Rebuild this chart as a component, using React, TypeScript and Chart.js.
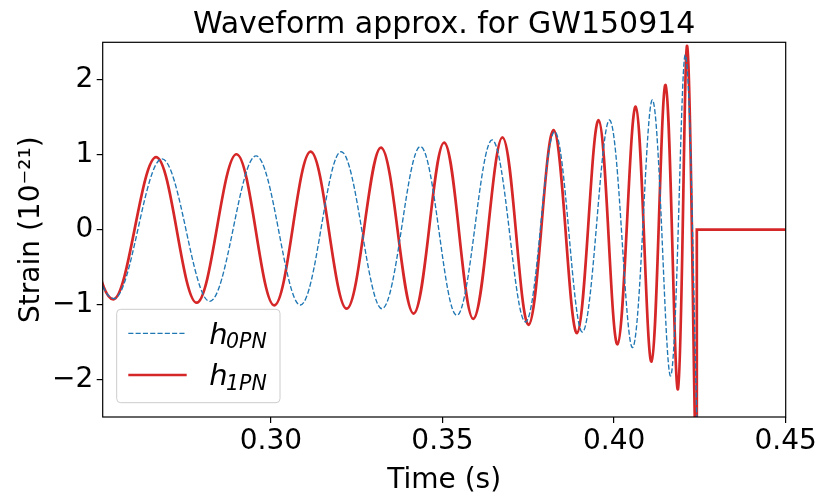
import React, { useEffect, useRef } from 'react';
import { Chart, registerables } from 'chart.js';

Chart.register(...registerables);

// ---- text ----
const TITLE = 'Waveform approx. for GW150914';
const X_LABEL = 'Time (s)';
const Y_LABEL = 'Strain (10\u207B\u00B2\u00B9)';
const LEGEND_BASE = ['h', 'h'];
const LEGEND_SUB = ['0PN', '1PN'];

// ---- axes ----
const X_MIN = 0.251;
const X_MAX = 0.45;
const Y_MIN = -2.5;
const Y_MAX = 2.5;
const X_TICKS = [0.3, 0.35, 0.4, 0.45];
const Y_TICKS = [-2, -1, 0, 1, 2];

// ---- h_0PN: successive extrema (first one just left of the axis) ----
const T_0PN = [
  0.2406, 0.2543, 0.2683, 0.2822, 0.2957, 0.3086, 0.3205, 0.3324, 0.3436, 0.3542,
  0.3645, 0.3742, 0.3827, 0.3908, 0.3987, 0.4054, 0.4112, 0.4165, 0.4208, 0.4244,
];
const H_0PN = [
  0.93, -0.92, 0.944, -0.957, 0.984, -1.006, 1.04, -1.055, 1.108, -1.144,
  1.197, -1.232, 1.307, -1.366, 1.463, -1.573, 1.73, -1.95, 2.33, -3.0,
];

// ---- h_1PN: successive extrema ----
const T_1PN = [
  0.2424, 0.2541, 0.2666, 0.2784, 0.29, 0.301, 0.3116, 0.3221, 0.3321, 0.3416,
  0.3505, 0.359, 0.3675, 0.3751, 0.3824, 0.3892, 0.3955, 0.401, 0.4063, 0.4109,
  0.415, 0.4186, 0.4213, 0.4237,
];
const H_1PN = [
  0.94, -0.93, 0.967, -0.975, 1.006, -1.01, 1.04, -1.055, 1.095, -1.12,
  1.16, -1.19, 1.23, -1.27, 1.33, -1.38, 1.46, -1.53, 1.64, -1.76,
  1.93, -2.13, 2.45, -3.0,
];
// after merger the 1PN waveform is set to zero
const T_1PN_TAIL = [0.4241, 0.4241, 0.45];
const H_1PN_TAIL = [-3.2, 0, 0];

const BLUE = '#1f77b4';
const RED = '#d62728';
const FONT = '"DejaVu Sans", "Liberation Sans", sans-serif';

const pts = (t: number[], h: number[]) => t.map((x, i) => ({ x, y: h[i] }));

const framePlugin = {
  id: 'mplFrame',
  afterDatasetsDraw(chart: any) {
    const { ctx, chartArea: a } = chart;
    ctx.save();
    ctx.strokeStyle = '#000';
    ctx.lineWidth = 1.2;
    ctx.strokeRect(a.left, a.top, a.right - a.left, a.bottom - a.top);
    ctx.restore();
  },
};

const legendPlugin = {
  id: 'mplLegend',
  afterDraw(chart: any) {
    const { ctx, chartArea: a } = chart;
    const ds = chart.data.datasets;
    const bx = a.left + 14;
    const bw = 163.3;
    const bh = 93.4;
    const by = a.bottom - 14.3 - bh;
    ctx.save();
    ctx.beginPath();
    if (ctx.roundRect) ctx.roundRect(bx, by, bw, bh, 4);
    else ctx.rect(bx, by, bw, bh);
    ctx.fillStyle = 'rgba(255,255,255,0.8)';
    ctx.fill();
    ctx.strokeStyle = '#cccccc';
    ctx.lineWidth = 1;
    ctx.stroke();
    const rowY = [by + 24, by + 65.7];
    for (let i = 0; i < 2; i++) {
      const d = ds[i];
      const y = rowY[i];
      ctx.beginPath();
      ctx.strokeStyle = d.borderColor;
      ctx.lineWidth = d.borderWidth;
      ctx.setLineDash(d.borderDash || []);
      ctx.moveTo(bx + 11.6, y);
      ctx.lineTo(bx + 70, y);
      ctx.stroke();
      ctx.setLineDash([]);
      ctx.fillStyle = '#000';
      ctx.textBaseline = 'alphabetic';
      ctx.textAlign = 'left';
      ctx.font = `italic 29px ${FONT}`;
      const tx = bx + 92.5;
      ctx.fillText(LEGEND_BASE[i], tx, y + 10.3);
      const w = ctx.measureText(LEGEND_BASE[i]).width;
      ctx.font = `italic 20.5px ${FONT}`;
      ctx.fillText(LEGEND_SUB[i], tx + w - 1.5, y + 14.8);
    }
    ctx.restore();
  },
};

export default function App() {
  const ref = useRef<HTMLCanvasElement | null>(null);

  useEffect(() => {
    if (!ref.current) return;
    const chart = new Chart(ref.current, {
      type: 'line',
      data: {
        datasets: [
          {
            label: 'h_0PN',
            data: pts(T_0PN, H_0PN),
            borderColor: BLUE,
            borderWidth: 1.35,
            borderDash: [5.1, 2.2],
            pointRadius: 0,
            tension: 0.36,
            fill: false,
            clip: 0,
          },
          {
            label: 'h_1PN',
            data: pts(T_1PN, H_1PN),
            borderColor: RED,
            borderWidth: 2.7,
            pointRadius: 0,
            tension: 0.36,
            fill: false,
            clip: 0,
          },
          {
            label: 'h_1PN tail',
            data: pts(T_1PN_TAIL, H_1PN_TAIL),
            borderColor: RED,
            borderWidth: 2.7,
            pointRadius: 0,
            tension: 0,
            fill: false,
            clip: 0,
            borderJoinStyle: 'miter',
          },
        ],
      } as any,
      options: {
        animation: false,
        responsive: false,
        devicePixelRatio: 1,
        elements: { line: { capBezierPoints: false } },
        layout: { padding: { left: 0, right: 44.3, top: 0, bottom: 0 } },
        plugins: {
          legend: { display: false },
          tooltip: { enabled: false },
          title: {
            display: true,
            text: TITLE,
            color: '#000',
            fullSize: false,
            font: { family: FONT, size: 30, weight: 'normal', lineHeight: 1.1 },
            padding: { top: 9.1, bottom: 0.2 },
          },
        },
        scales: {
          x: {
            type: 'linear',
            min: X_MIN,
            max: X_MAX,
            afterBuildTicks: (s: any) => {
              s.ticks = X_TICKS.map((v) => ({ value: v }));
            },
            afterFit: (s: any) => {
              s.height = 81;
            },
            grid: { drawOnChartArea: false, drawTicks: true, tickLength: 6, color: '#000', lineWidth: 1.2 },
            border: { display: false },
            ticks: {
              color: '#000',
              padding: 2,
              maxRotation: 0,
              autoSkip: false,
              font: { family: FONT, size: 28, lineHeight: 1.2 },
              callback: (v: any) => Number(v).toFixed(2),
            },
            title: {
              display: true,
              text: X_LABEL,
              color: '#000',
              font: { family: FONT, size: 28, lineHeight: 1.2 },
              padding: { top: 0, bottom: 0.5 },
            },
          },
          y: {
            type: 'linear',
            min: Y_MIN,
            max: Y_MAX,
            afterBuildTicks: (s: any) => {
              s.ticks = Y_TICKS.map((v) => ({ value: v }));
            },
            afterFit: (s: any) => {
              s.width = 102.7;
            },
            grid: { drawOnChartArea: false, drawTicks: true, tickLength: 6, color: '#000', lineWidth: 1.2 },
            border: { display: false },
            ticks: {
              color: '#000',
              padding: 3.4,
              autoSkip: false,
              font: { family: FONT, size: 28, lineHeight: 1.2 },
              callback: (v: any) => (Number(v) < 0 ? '\u2212' + Math.abs(Number(v)) : String(v)),
            },
            title: {
              display: true,
              text: Y_LABEL,
              color: '#000',
              font: { family: FONT, size: 28, lineHeight: 1.2 },
              padding: { top: 15.2, bottom: 0 },
            },
          },
        },
      } as any,
      plugins: [framePlugin, legendPlugin],
    });
    return () => chart.destroy();
  }, []);

  return (
    <div style={{ position: 'absolute', left: 0, top: 0, width: 830, height: 498, background: '#fff' }}>
      <canvas ref={ref} width={830} height={498} style={{ width: 830, height: 498, display: 'block' }} />
    </div>
  );
}
